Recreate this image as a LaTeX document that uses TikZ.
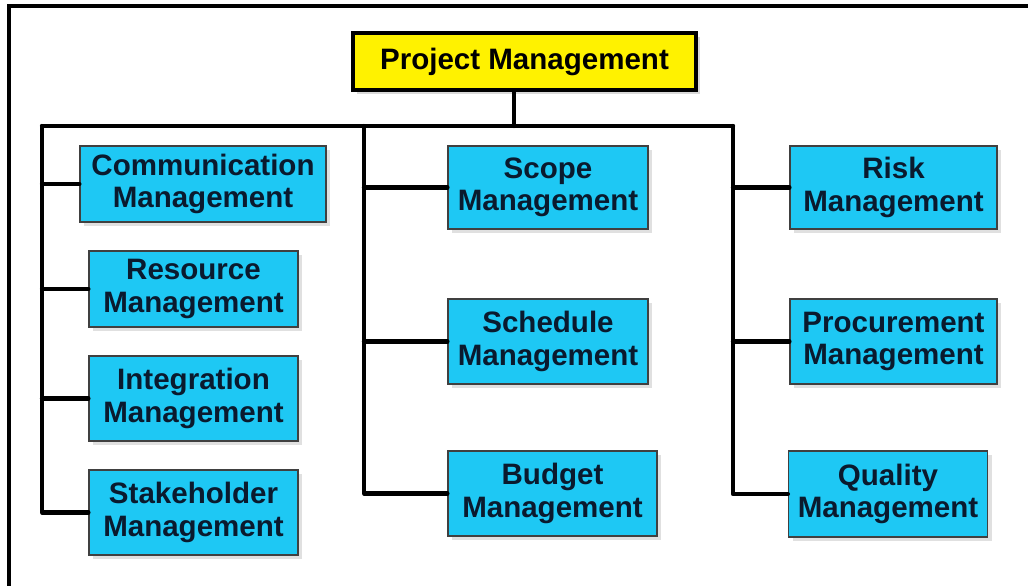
\documentclass[tikz,border=0pt]{standalone}
\usepackage{fontspec}
\setmainfont{Liberation Sans}
\usetikzlibrary{shadows}
\definecolor{mgmtblue}{HTML}{1EC8F4}
\definecolor{mgmttext}{HTML}{0A1A2E}
\begin{document}
\begin{tikzpicture}[x=0.025cm, y=-0.025cm, every node/.style={font=\fontsize{21}{23}\selectfont\bfseries}]
  \tikzstyle{area}=[draw=black!75, line width=0.8pt, fill=mgmtblue, text=mgmttext, align=center, inner sep=0pt,
    drop shadow={shadow xshift=3pt, shadow yshift=-3pt, fill=black, opacity=0.12}]
  \tikzstyle{head}=[draw, line width=2.6pt, fill=yellow, text=black, inner sep=0pt,
    drop shadow={shadow xshift=3pt, shadow yshift=-3pt, fill=black, opacity=0.15}]
  \tikzstyle{wire}=[line width=3pt, line cap=round, line join=round]
  \useasboundingbox (0,0) rectangle (1028,586);
  \clip (0,0) rectangle (1028,586);
  \fill[white] (0,0) rectangle (1028,586);
  \draw[line width=2.4pt] (9,6) rectangle (1060,620);

  \node[head, minimum width=8.575cm, minimum height=1.425cm] (pm) at (524.5,61.5) {Project Management};

  \node[area, minimum width=6.15cm, minimum height=1.9cm] (comm) at (203,184) {Communication\\Management};
  \node[area, minimum width=5.225cm, minimum height=1.9cm] (res) at (193.5,289) {Resource\\Management};
  \node[area, minimum width=5.225cm, minimum height=2.125cm] (integ) at (193.5,398.5) {Integration\\Management};
  \node[area, minimum width=5.225cm, minimum height=2.125cm] (stake) at (193.5,512.5) {Stakeholder\\Management};

  \node[area, minimum width=5cm, minimum height=2.075cm] (scope) at (548,187.5) {Scope\\Management};
  \node[area, minimum width=5cm, minimum height=2.125cm] (sched) at (548,341.5) {Schedule\\Management};
  \node[area, minimum width=5.225cm, minimum height=2.125cm] (budget) at (552.5,493.5) {Budget\\Management};

  \node[area, minimum width=5.175cm, minimum height=2.075cm] (risk) at (893.5,187.5) {Risk\\Management};
  \node[area, minimum width=5.175cm, minimum height=2.125cm] (proc) at (893.5,341.5) {Procurement\\Management};
  \node[area, minimum width=4.975cm, minimum height=2.15cm] (qual) at (888,494) {Quality\\Management};

  \coordinate (stem) at (514,126);
  \coordinate (lbus) at (42,126);
  \coordinate (mbus) at (364,126);
  \coordinate (rbus) at (733,126);
  \draw[wire] (pm.south -| stem) -- (stem);
  \draw[wire] (lbus) -- (rbus);
  \draw[wire] (lbus) |- (stake.west);
  \draw[wire] (comm.west -| lbus) -- (comm.west);
  \draw[wire] (res.west -| lbus) -- (res.west);
  \draw[wire] (integ.west -| lbus) -- (integ.west);
  \draw[wire] (mbus) |- (budget.west);
  \draw[wire] (scope.west -| mbus) -- (scope.west);
  \draw[wire] (sched.west -| mbus) -- (sched.west);
  \draw[wire] (rbus) |- (qual.west);
  \draw[wire] (risk.west -| rbus) -- (risk.west);
  \draw[wire] (proc.west -| rbus) -- (proc.west);
\end{tikzpicture}
\end{document}
